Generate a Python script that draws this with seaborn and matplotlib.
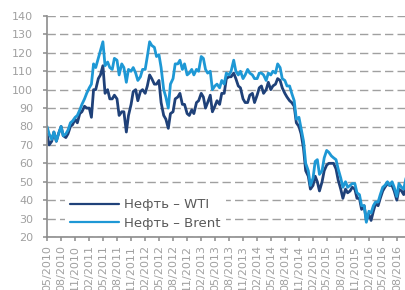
import pandas as pd
import matplotlib
matplotlib.use("Agg")
import matplotlib.pyplot as plt
import matplotlib.dates as mdates
import seaborn as sns

# semi-monthly points (1st and 15th), plus the last day
dates = list(pd.date_range("2010-05-01", "2016-09-15", freq="SMS")) + [pd.Timestamp("2016-09-30")]

wti = [
    76, 70, 72, 77, 72, 76, 80, 75, 74, 76, 80, 81, 84, 82, 87, 88,
    91, 90, 90, 85, 100, 100, 106, 108, 113, 98, 100, 95, 95, 97, 95, 86, 88, 88, 77, 86, 92, 99, 100, 94,
    99, 100, 98, 102, 108, 106, 103, 103, 105, 93, 86, 84, 79, 87, 88, 95, 96, 98, 92, 92, 87, 86, 89, 87,
    93, 94, 98, 96, 90, 93, 97, 88, 91, 94, 92, 98, 98, 106, 107, 107, 109, 106, 102, 101, 95, 93, 93, 97,
    98, 93, 97, 101, 102, 98, 100, 104, 100, 102, 103, 106, 105, 101, 98, 96, 94, 93, 91, 82, 80, 76, 68, 56,
    53, 46, 48, 53, 50, 45, 50, 56, 59, 60, 60, 60, 57, 51, 46, 41, 46, 44, 45, 47, 46, 41, 41, 35,
    37, 29, 32, 29, 34, 38, 37, 41, 45, 47, 49, 48, 48, 45, 40, 46, 45, 43, 48,
]

brent = [
    80, 76, 73, 77, 72, 76, 80, 75, 76, 78, 82, 83, 85, 86, 89, 92,
    95, 98, 101, 103, 114, 112, 117, 121, 126, 113, 115, 112, 111, 117, 116, 108, 114, 112, 104, 111, 110, 112, 109, 105,
    107, 111, 111, 118, 126, 124, 123, 118, 119, 112, 100, 96, 90, 103, 106, 114, 114, 116, 111, 114, 108, 109, 111, 108,
    111, 110, 118, 117, 111, 109, 110, 100, 102, 103, 101, 105, 103, 109, 108, 110, 116, 110, 108, 110, 106, 108, 111, 109,
    108, 106, 106, 109, 109, 108, 105, 109, 108, 110, 109, 114, 112, 106, 105, 102, 102, 98, 94, 84, 85, 79, 72, 60,
    56, 48, 52, 61, 62, 54, 56, 63, 67, 66, 64, 63, 62, 57, 52, 47, 50, 47, 48, 49, 49, 44, 43, 37,
    37, 28, 34, 33, 37, 39, 39, 43, 47, 48, 50, 48, 50, 47, 42, 49, 47, 46, 52,
]

labels = ["Нефть – WTI", "Нефть – Brent"]
y_ticks = list(range(20, 141, 10))

sns.set_style("white")

fig = plt.figure(figsize=(4.06, 2.90), dpi=100)
ax = fig.add_axes([47 / 406, 53 / 290, 359 / 406, 221 / 290])

sns.lineplot(x=dates, y=wti, color="#1f4179", lw=2.0, label=labels[0], ax=ax)
sns.lineplot(x=dates, y=brent, color="#1e98d5", lw=2.0, label=labels[1], ax=ax)

ax.set_xlim(pd.Timestamp("2010-05-01"), pd.Timestamp("2016-09-30"))
ax.set_ylim(20, 140)
ax.set_yticks(y_ticks)
ax.set_xlabel("")
ax.set_ylabel("")

ax.xaxis.set_major_locator(mdates.MonthLocator(bymonth=[2, 5, 8, 11]))
ax.xaxis.set_major_formatter(mdates.DateFormatter("%m/%Y"))
plt.setp(ax.get_xticklabels(), rotation=90)

# dashed horizontal grid
ax.yaxis.grid(True, color="#a0a0a0", linestyle=(0, (6, 3)), lw=1.0)
ax.xaxis.grid(False)
ax.set_axisbelow(True)

for s in ["top", "right"]:
    ax.spines[s].set_visible(False)
for s in ["left", "bottom"]:
    ax.spines[s].set_color("#8c8c8c")
    ax.spines[s].set_linewidth(1.2)

ax.tick_params(axis="both", bottom=True, left=True, direction="out", length=3,
               width=1.1, color="#8c8c8c", labelcolor="#a0a0a0", labelsize=8)
ax.tick_params(axis="x", pad=3)
ax.tick_params(axis="y", pad=7)

leg = ax.legend(loc="lower left", bbox_to_anchor=(0.05, 0.01), frameon=True,
                fancybox=False, edgecolor="none", facecolor="white", framealpha=1,
                fontsize=9.5, handlelength=3.7, handletextpad=0.4,
                labelspacing=0.4, borderaxespad=0)
for t in leg.get_texts():
    t.set_color("#595959")
for h in leg.get_lines():
    h.set_linewidth(1.6)

fig.savefig("out.png", dpi=100)
